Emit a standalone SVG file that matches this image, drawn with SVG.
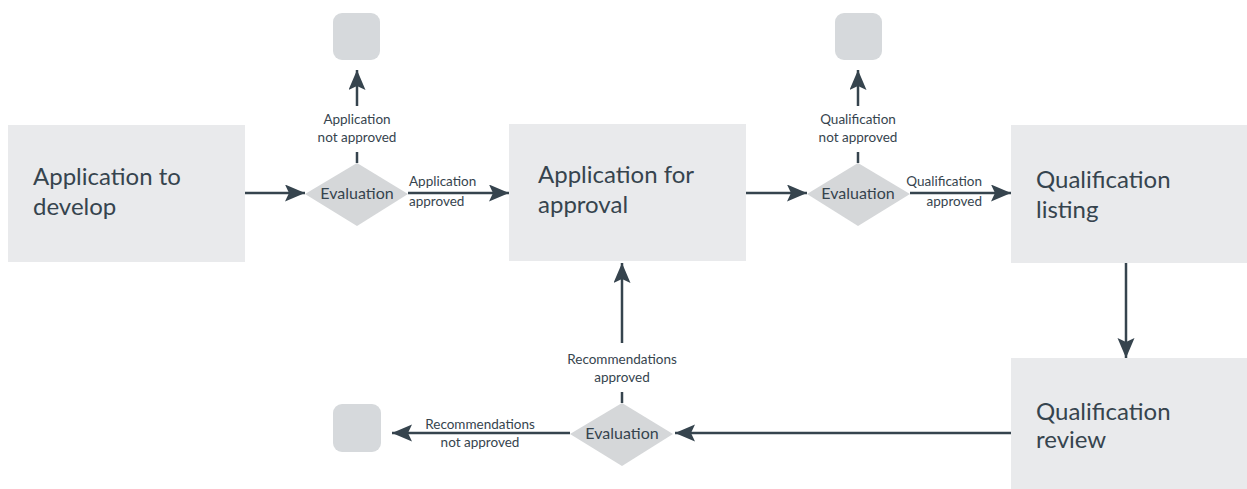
<svg xmlns="http://www.w3.org/2000/svg" width="1247" height="489" viewBox="0 0 1247 489">
<style>
.box{fill:#e9eaec}
.term{fill:#d6d9dc}
.dia{fill:#d5d7d9}
.big{font-family:Lato,"Open Sans",sans-serif;font-size:24px;fill:#36444e}
.ev{font-family:Lato,"Open Sans",sans-serif;font-size:16px;fill:#36444e;text-anchor:middle}
.lbl{font-family:Lato,"Open Sans",sans-serif;font-size:13.5px;fill:#36444e}
.c{text-anchor:middle}
.e{text-anchor:end}
.ln{stroke:#36444e;stroke-width:2.5;fill:none}
.hd{stroke:#36444e;stroke-width:2.5;fill:none;marker-end:url(#ah)}
</style>
<defs>
<marker id="ah" markerUnits="userSpaceOnUse" markerWidth="22" markerHeight="18" refX="20" refY="8.5" orient="auto">
<path d="M0,0 L20,8.5 L0,17 L4,8.5 z" fill="#36444e"/>
</marker>
</defs>
<rect width="1247" height="489" fill="#ffffff"/>
<g id="connectors">
<line class="hd" x1="245" y1="193" x2="305" y2="193"/>
<line class="hd" x1="408" y1="193" x2="509" y2="193"/>
<line class="hd" x1="357" y1="106" x2="357" y2="70"/>
<line class="ln" x1="357" y1="152" x2="357" y2="163"/>
<line class="hd" x1="746" y1="193" x2="807" y2="193"/>
<line class="hd" x1="910" y1="193" x2="1011" y2="193"/>
<line class="hd" x1="858" y1="106" x2="858" y2="70"/>
<line class="ln" x1="858" y1="152" x2="858" y2="163"/>
<line class="hd" x1="1126" y1="263" x2="1126" y2="358"/>
<line class="hd" x1="1011" y1="433" x2="675" y2="433"/>
<line class="hd" x1="622" y1="343" x2="622" y2="263"/>
<line class="ln" x1="622" y1="392" x2="622" y2="403"/>
<line class="hd" x1="570" y1="433" x2="392" y2="433"/>
<text class="lbl c" x="357" y="124">Application</text>
<text class="lbl c" x="357" y="142">not approved</text>
<text class="lbl" x="409" y="186">Application</text>
<text class="lbl" x="409" y="206">approved</text>
<text class="lbl c" x="858" y="124">Qualification</text>
<text class="lbl c" x="858" y="142">not approved</text>
<text class="lbl e" x="982" y="186">Qualification</text>
<text class="lbl e" x="982" y="206">approved</text>
<text class="lbl c" x="622" y="364">Recommendations</text>
<text class="lbl c" x="622" y="382">approved</text>
<text class="lbl c" x="480" y="429">Recommendations</text>
<text class="lbl c" x="480" y="447">not approved</text>
</g>
<g id="n-app-develop">
<rect class="box" x="8" y="125" width="237" height="137"/>
<text class="big" x="33" y="185">Application to</text>
<text class="big" x="33" y="215">develop</text>
</g>
<g id="n-app-approval">
<rect class="box" x="509" y="124" width="237" height="137"/>
<text class="big" x="538" y="183">Application for</text>
<text class="big" x="538" y="213">approval</text>
</g>
<g id="n-qual-listing">
<rect class="box" x="1011" y="125" width="236" height="138"/>
<text class="big" x="1036" y="188">Qualification</text>
<text class="big" x="1036" y="218">listing</text>
</g>
<g id="n-qual-review">
<rect class="box" x="1011" y="358" width="236" height="131"/>
<text class="big" x="1036" y="420">Qualification</text>
<text class="big" x="1036" y="448">review</text>
</g>
<g id="d-eval1">
<polygon class="dia" points="357,163 408,194 357,226 305,194"/>
<text class="ev" x="357" y="199">Evaluation</text>
</g>
<g id="d-eval2">
<polygon class="dia" points="858,163 910,194 858,226 807,194"/>
<text class="ev" x="858" y="199">Evaluation</text>
</g>
<g id="d-eval3">
<polygon class="dia" points="622,403 673,434 622,466 570,434"/>
<text class="ev" x="622" y="439">Evaluation</text>
</g>
<g id="t-end1"><rect class="term" x="333" y="13" width="47" height="47" rx="9"/></g>
<g id="t-end2"><rect class="term" x="835" y="13" width="47" height="47" rx="9"/></g>
<g id="t-end3"><rect class="term" x="333" y="404" width="48" height="48" rx="9"/></g>
</svg>
